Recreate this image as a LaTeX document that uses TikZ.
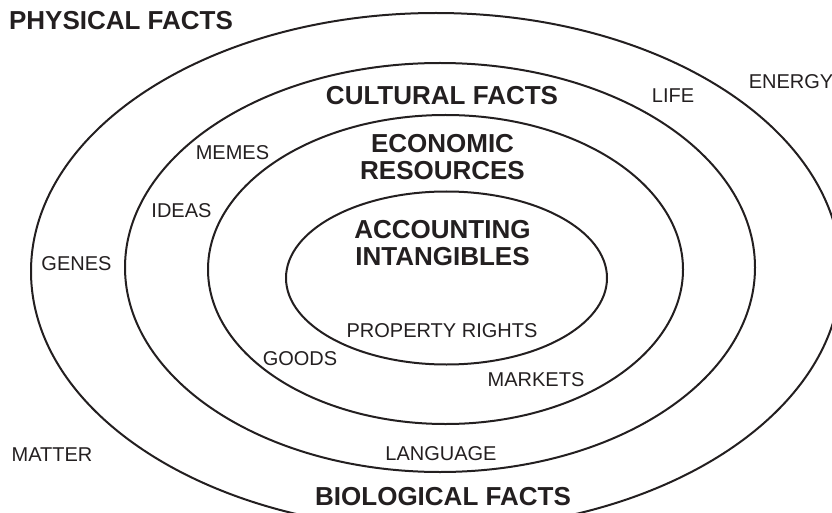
\documentclass[tikz,border=0pt]{standalone}
\usepackage{fontspec}
\setmainfont{Liberation Sans}
\begin{document}
\begin{tikzpicture}[x=1pt,y=-1pt,
  ring/.style={draw=inkdark,line width=2pt},
  heading/.style={anchor=base,inner sep=0pt,text=inkdark,font=\fontsize{26}{28}\selectfont\bfseries},
  term/.style={anchor=base,inner sep=0pt,text=inkdark,font=\fontsize{20}{22}\selectfont}]
\definecolor{inkdark}{HTML}{231F20}
\useasboundingbox (0,0) rectangle (832,513);
\clip (0,0) rectangle (832,513);

% nested spheres of facts
\draw[ring] (436,271.4) ellipse [x radius=405, y radius=258.4];
\draw[ring] (440,267.5) ellipse [x radius=315, y radius=204.5];
\draw[ring] (445.5,269.5) ellipse [x radius=237.5, y radius=154.5];
\draw[ring] (446.5,278) ellipse [x radius=160.5, y radius=86.5];

% headings
\node[heading] (physical) at (121,30) {PHYSICAL FACTS};
\node[heading] (cultural) at (442,105) {CULTURAL FACTS};
\node[heading] (econA) at (442.5,153) {ECONOMIC};
\node[heading] (econB) at (442.5,180) {RESOURCES};
\node[heading] (acctA) at (442.5,238) {ACCOUNTING};
\node[heading] (acctB) at (442.5,265) {INTANGIBLES};
\node[heading] (biological) at (443,505) {BIOLOGICAL FACTS};

% terms
\node[term] (life) at (673,103) {LIFE};
\node[term] (energy) at (791,89) {ENERGY};
\node[term] (memes) at (232.5,160) {MEMES};
\node[term] (ideas) at (181.5,218) {IDEAS};
\node[term] (genes) at (76.5,270) {GENES};
\node[term] (property) at (442,337) {PROPERTY RIGHTS};
\node[term] (goods) at (300,365) {GOODS};
\node[term] (markets) at (536,386) {MARKETS};
\node[term] (language) at (441,460) {LANGUAGE};
\node[term] (matter) at (52,461) {MATTER};
\end{tikzpicture}
\end{document}
